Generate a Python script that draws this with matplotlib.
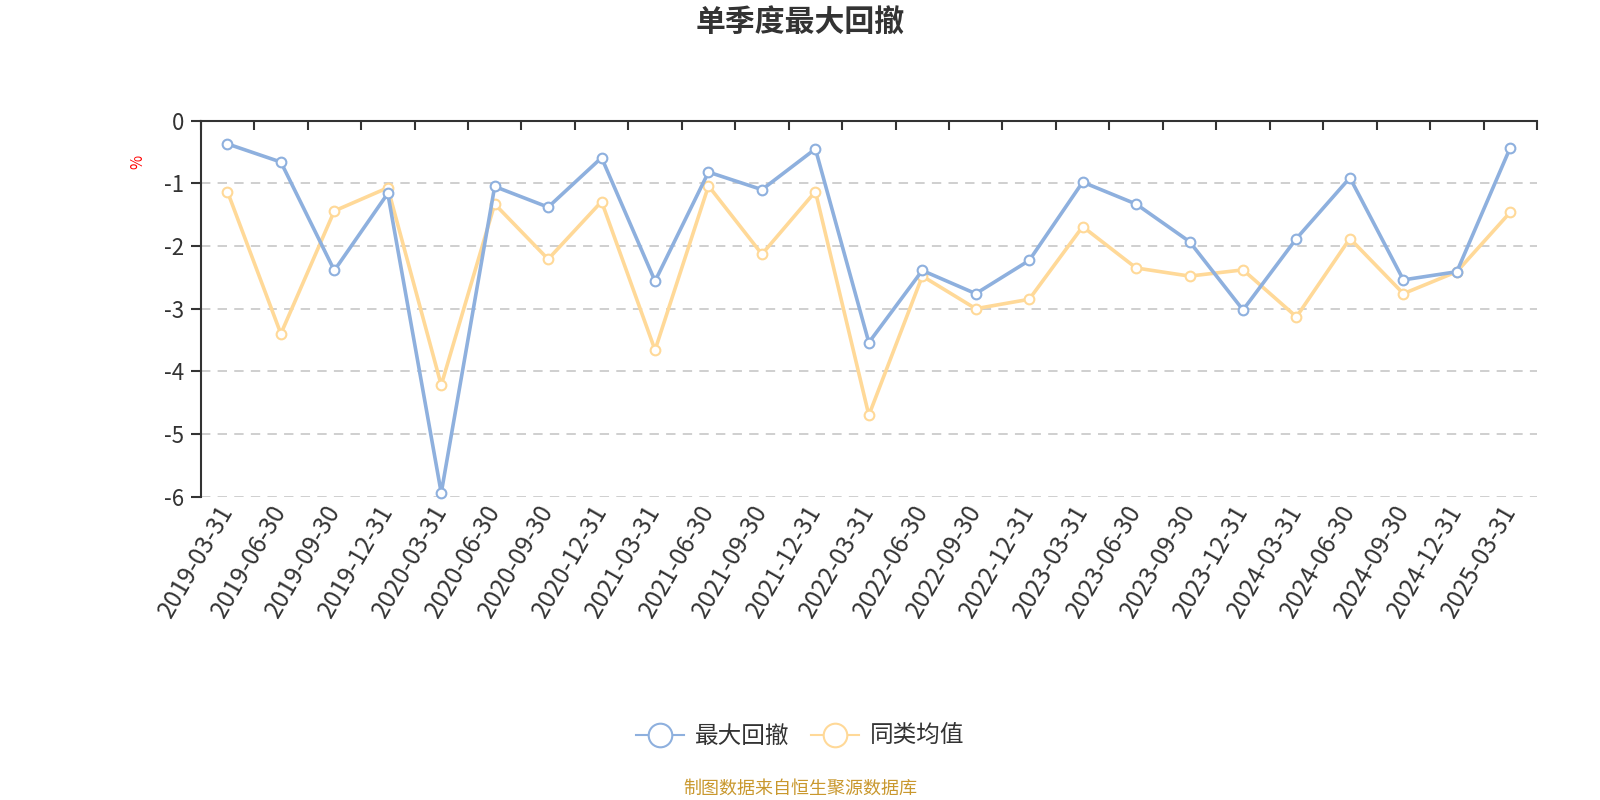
import matplotlib
matplotlib.use("Agg")
import matplotlib.pyplot as plt
from matplotlib.lines import Line2D

plt.rcParams['font.family'] = ['Noto Sans CJK SC', 'DejaVu Sans']

categories = ["2019-03-31", "2019-06-30", "2019-09-30", "2019-12-31",
              "2020-03-31", "2020-06-30", "2020-09-30", "2020-12-31",
              "2021-03-31", "2021-06-30", "2021-09-30", "2021-12-31",
              "2022-03-31", "2022-06-30", "2022-09-30", "2022-12-31",
              "2023-03-31", "2023-06-30", "2023-09-30", "2023-12-31",
              "2024-03-31", "2024-06-30", "2024-09-30", "2024-12-31",
              "2025-03-31"]
max_drawdown = [-0.37, -0.66, -2.39, -1.16, -5.94, -1.05, -1.38, -0.59,
                -2.56, -0.82, -1.10, -0.45, -3.54, -2.39, -2.76, -2.23,
                -0.98, -1.33, -1.93, -3.02, -1.88, -0.91, -2.54, -2.41,
                -0.43]
peer_avg = [-1.13, -3.40, -1.44, -1.07, -4.22, -1.33, -2.21, -1.29,
            -3.66, -1.04, -2.13, -1.13, -4.70, -2.48, -3.00, -2.85,
            -1.69, -2.35, -2.48, -2.38, -3.13, -1.88, -2.76, -2.41,
            -1.46]
y_ticks = [0, -1, -2, -3, -4, -5, -6]
series_names = ["最大回撤", "同类均值"]

blue = '#8EB0DE'
yellow = '#FFD998'
text_col = '#333333'

W, H = 1600, 800
fig = plt.figure(figsize=(16, 8), dpi=100)
L, R, T, B = 200.7, 1537, 120.7, 496.7
ax = fig.add_axes([L/W, 1-B/H, (R-L)/W, (B-T)/H])

x = list(range(len(categories)))
ax.plot(x, max_drawdown, color=blue, lw=2.6, marker='o', ms=7,
        mfc='white', mec=blue, mew=1.5, zorder=4, clip_on=False)
ax.plot(x, peer_avg, color=yellow, lw=2.6, marker='o', ms=7,
        mfc='white', mec=yellow, mew=1.5, zorder=3, clip_on=False)

ax.set_xlim(-0.5, len(categories)-0.5)
ax.set_ylim(-6, 0)

# grid
for yv in y_ticks[1:]:
    ax.axhline(yv, color='#CCCCCC', lw=1.3, ls=(0, (5.2, 4.0)), zorder=1)

for s in ['bottom', 'right']:
    ax.spines[s].set_visible(False)
ax.spines['top'].set_color(text_col)
ax.spines['top'].set_linewidth(1.5)
ax.spines['left'].set_color(text_col)
ax.spines['left'].set_linewidth(1.5)

ax.set_yticks(y_ticks)
ax.set_yticklabels([str(v) for v in y_ticks], fontsize=16, color=text_col)
ax.tick_params(axis='y', direction='out', length=7.2, width=1.5, color=text_col, pad=4.5)

# x ticks: labels at bottom, tick marks at top boundaries
ax.set_xticks(x)
ax.set_xticklabels(categories, rotation=60, ha='right', va='center',
                   rotation_mode='anchor', fontsize=17.5, color=text_col)
ax.tick_params(axis='x', which='major', bottom=True, top=False, length=0, pad=7)
ax.set_xticks([i - 0.5 for i in range(0, len(categories)+1)], minor=True)
ax.tick_params(axis='x', which='minor', top=True, bottom=False, direction='in',
               length=6.5, width=1.5, color=text_col)

fig.text(138/W, 1-162/H, '%', rotation=90, color='red',
         fontsize=11, ha='center', va='center')

fig.text(800/W, 1-23/H, '单季度最大回撤', ha='center', va='center',
         fontsize=21.5, fontweight='bold', color=text_col)

handles = [Line2D([0], [0], color=blue, lw=1.5, marker='o', ms=17, mfc='white', mec=blue, mew=1.5),
           Line2D([0], [0], color=yellow, lw=1.5, marker='o', ms=17, mfc='white', mec=yellow, mew=1.5)]
fig.legend(handles, series_names, loc='center', bbox_to_anchor=(800/W, 1-736.7/H),
           ncol=2, frameon=False, fontsize=17, handlelength=2.05, columnspacing=0.9,
           handletextpad=0.46, labelcolor=text_col, borderpad=0, borderaxespad=0)

fig.text(800/W, 1-789/H, '制图数据来自恒生聚源数据库', ha='center', va='center',
         fontsize=13, color='#C9982E')

fig.savefig('out.png', dpi=100, facecolor='white')
